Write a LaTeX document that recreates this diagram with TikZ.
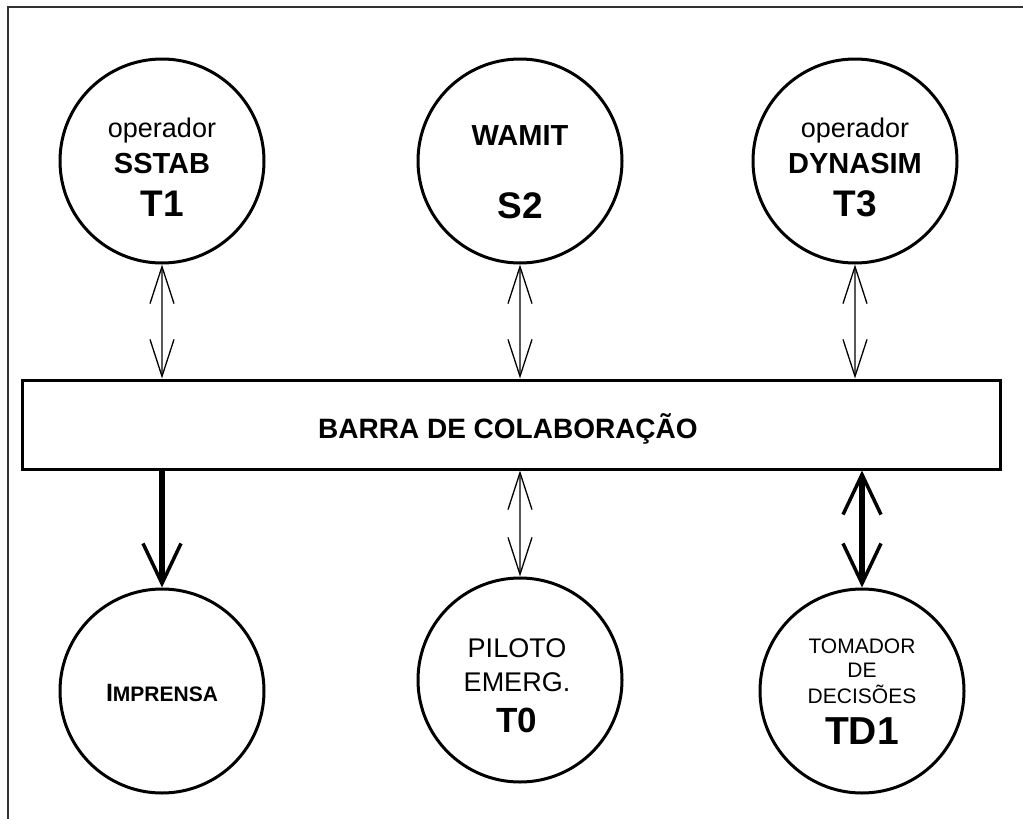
\documentclass[tikz,border=0pt]{standalone}
\usepackage{fontspec}
\setmainfont{Liberation Sans}
\usetikzlibrary{arrows.meta}
\begin{document}
\begin{tikzpicture}[x=1pt,y=-1pt,
  circ/.style={draw,circle,line width=3pt,minimum size=204pt,inner sep=0pt},
  bar/.style={draw,rectangle,line width=3pt,minimum width=978pt,minimum height=89pt,inner sep=0pt},
  lbl/.style={anchor=base,inner sep=0pt,font=\fontsize{27}{29}\selectfont},
  lblb/.style={lbl,font=\fontsize{29}{31}\selectfont\bfseries},
  lbig/.style={lbl,font=\fontsize{37}{39}\selectfont\bfseries},
  thinhead/.tip={Straight Barb[length=37pt,width=24pt,line width=1.3pt,color=black]},
  thickhead/.tip={Straight Barb[length=40pt,width=38pt,line width=3.5pt]},
  thinarr/.style={line width=1.4pt,draw=black!65,thinhead-thinhead},
  thickarr/.style={line width=6.5pt,draw=black},
  frame/.style={line width=1.8pt,draw=black!80}
]
\useasboundingbox (0,0) rectangle (1023,819);
% frame
\coordinate (fa) at (8,819);
\coordinate (fb) at (8,7);
\coordinate (fc) at (1023,7);
\draw[frame] (fa) -- (fb) -- (fc);

% top circles
\node[circ] (t1) at (162,161) {};
\node[circ] (s2) at (520,161) {};
\node[circ] (t3) at (855,161) {};
% bar
\node[bar] (bar) at (511,424.5) {};
\node[anchor=base,inner sep=0pt,font=\fontsize{28}{30}\selectfont\bfseries] (bart) at (508,438) {BARRA DE COLABORAÇÃO};
% bottom circles
\node[circ] (imp) at (162,691) {};
\node[circ] (t0) at (520,680) {};
\node[circ] (td1) at (862,691) {};

% texts
\node[lbl] (t1a) at (162,137) {operador};
\node[lblb] (t1b) at (162,173) {SSTAB};
\node[lbig] (t1c) at (162,216) {T1};
\node[lblb] (s2a) at (520,145) {WAMIT};
\node[lbig] (s2b) at (520,218) {S2};
\node[lbl] (t3a) at (855,137) {operador};
\node[lblb] (t3b) at (855,173) {DYNASIM};
\node[lbig] (t3c) at (855,216) {T3};

\node[anchor=base,inner sep=0pt,font=\bfseries] (impt) at (162,701) {\fontsize{25}{27}\selectfont I\fontsize{21}{23}\selectfont MPRENSA};

\node[lbl,font=\fontsize{27}{29}\selectfont] (t0a) at (517,657) {PILOTO};
\node[lbl,font=\fontsize{27}{29}\selectfont] (t0b) at (517,691) {EMERG.};
\node[lbig,font=\fontsize{35}{37}\selectfont\bfseries] (t0c) at (517,732) {T0};

\node[lbl,font=\fontsize{21}{23}\selectfont] (td1a) at (862,653) {TOMADOR};
\node[lbl,font=\fontsize{21}{23}\selectfont] (td1b) at (862,677) {DE};
\node[lbl,font=\fontsize{21}{23}\selectfont] (td1c) at (862,703) {DECISÕES};
\node[lbig,font=\fontsize{39}{41}\selectfont\bfseries] (td1d) at (862,744) {TD1};

% connectors top
\draw[thinarr] (t1.south) -- (t1.south |- bar.north);
\draw[thinarr] (s2.south) -- (s2.south |- bar.north);
\draw[thinarr] (t3.south) -- (t3.south |- bar.north);
% connectors bottom
\draw[thickarr,-thickhead] (imp.north |- bar.south) -- (imp.north);
\draw[thinarr] (t0.north |- bar.south) -- (t0.north);
\draw[thickarr,thickhead-thickhead] (td1.north |- bar.south) -- (td1.north);
\end{tikzpicture}
\end{document}
